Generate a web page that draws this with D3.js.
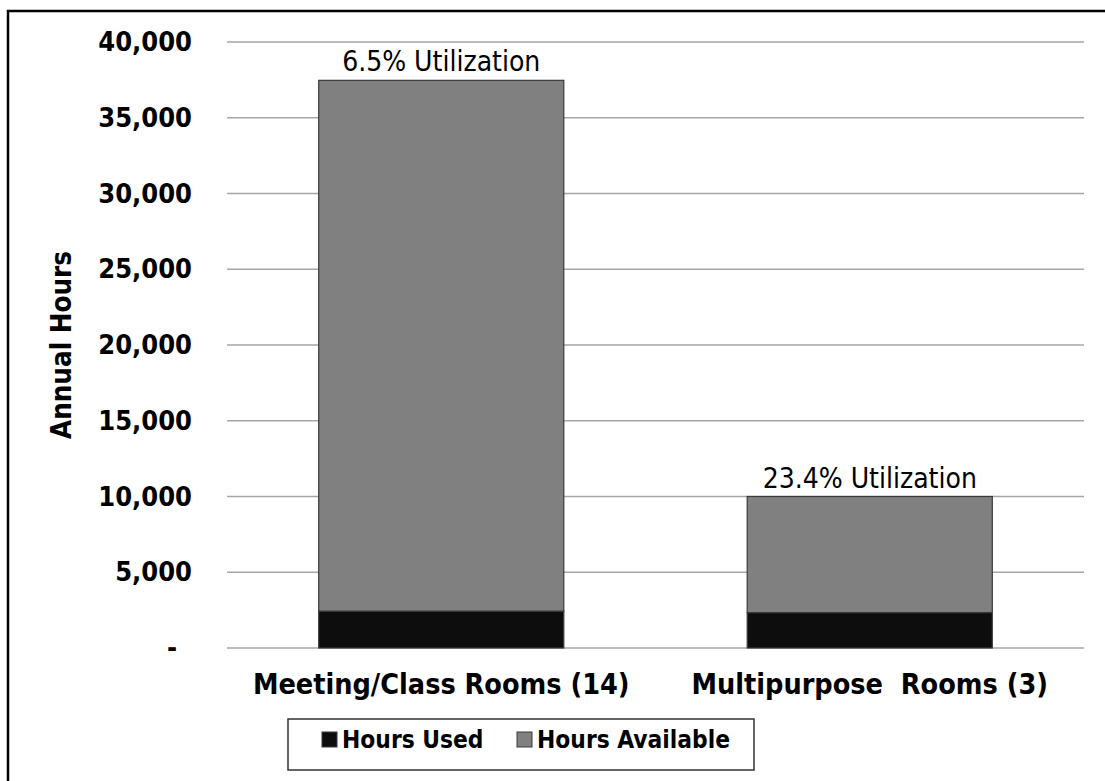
<!DOCTYPE html>
<html>
<head>
<meta charset="utf-8">
<script src="https://cdn.jsdelivr.net/npm/d3@7"></script>
<style>
  body { margin: 0; background: #fff; }
  text { font-family: "DejaVu Sans Condensed", "DejaVu Sans", sans-serif; font-stretch: condensed; }
</style>
</head>
<body>
<script>
// chart data
var categories = ["Meeting/Class Rooms (14)", "Multipurpose  Rooms (3)"];
var hoursUsed = [2435, 2340];
var hoursAvailable = [35035, 7660];   // stacked on top of used
var utilLabels = ["6.5% Utilization", "23.4% Utilization"];
var yTicks = [0, 5000, 10000, 15000, 20000, 25000, 30000, 35000, 40000];
var seriesNames = ["Hours Used", "Hours Available"];
var seriesColors = ["#0d0d0d", "#808080"];

function drawChart(){
  var svgWidth = 1105, svgHeight = 781;
  var plotLeft = 227, plotRight = 1084, plotTop = 42, plotBottom = 648;

  var svg = d3.select("body").append("svg")
    .attr("width", svgWidth)
    .attr("height", svgHeight);

  // outer chart border
  svg.append("rect")
    .attr("x", 8).attr("y", 11)
    .attr("width", 1200).attr("height", 900)
    .attr("fill", "none").attr("stroke", "#000").attr("stroke-width", 2.5);

  var x = d3.scaleBand().domain(categories).range([plotLeft, plotRight])
    .paddingInner(0.428).paddingOuter(0.214);
  var y = d3.scaleLinear().domain([0, 40000]).range([plotBottom, plotTop]);

  // gridlines
  svg.append("g").selectAll("line")
    .data(yTicks)
    .enter().append("line")
    .attr("x1", plotLeft).attr("x2", plotRight)
    .attr("y1", function(d){ return y(d); })
    .attr("y2", function(d){ return y(d); })
    .attr("stroke", "#a6a6a6").attr("stroke-width", 1.5);

  // y axis labels
  var fmt = d3.format(",");
  var yAxis = d3.axisLeft(y).tickValues(yTicks).tickSize(0).tickPadding(35)
    .tickFormat(function(d){ return d == 0 ? "-" : fmt(d); });
  var yg = svg.append("g").attr("transform", "translate(" + plotLeft + ",0)").call(yAxis);
  yg.select(".domain").remove();
  yg.attr("font-family", null).attr("font-size", null);
  yg.selectAll("text")
    .attr("font-size", 27).attr("font-weight", "bold").attr("fill", "#000")
    .attr("dx", function(d){ return d == 0 ? -15 : 0; });

  // axis title
  svg.append("text")
    .attr("transform", "translate(61," + ((plotTop + plotBottom) / 2) + ") rotate(-90)")
    .attr("text-anchor", "middle").attr("dy", "0.35em")
    .attr("font-size", 27.5).attr("font-weight", "bold")
    .text("Annual Hours");

  // stacked bars
  var rows = categories.map(function(c, i){
    return { cat: c, used: hoursUsed[i], avail: hoursAvailable[i] };
  });
  var stack = d3.stack().keys(["used", "avail"])(rows);

  svg.append("g").selectAll("g")
    .data(stack)
    .enter().append("g")
    .attr("fill", function(d, i){ return seriesColors[i]; })
    .selectAll("rect")
    .data(function(d){ return d; })
    .enter().append("rect")
    .attr("x", function(d){ return x(d.data.cat); })
    .attr("width", x.bandwidth())
    .attr("y", function(d){ return y(d[1]); })
    .attr("height", function(d){ return y(d[0]) - y(d[1]); })
    .attr("stroke", "#3a3a3a").attr("stroke-width", 1.2);

  // utilization labels
  svg.append("g").selectAll("text")
    .data(rows)
    .enter().append("text")
    .attr("x", function(d){ return x(d.cat) + x.bandwidth() / 2; })
    .attr("y", function(d){ return y(d.used + d.avail) - 9; })
    .attr("text-anchor", "middle")
    .attr("font-size", 28)
    .text(function(d, i){ return utilLabels[i]; });

  // category labels
  svg.append("g").selectAll("text")
    .data(categories)
    .enter().append("text")
    .attr("x", function(d){ return x(d) + x.bandwidth() / 2; })
    .attr("y", 694)
    .attr("text-anchor", "middle")
    .attr("font-size", 28.5).attr("font-weight", "bold")
    .style("white-space", "pre")
    .text(function(d){ return d; });

  // legend
  var lg = svg.append("g");
  lg.append("rect")
    .attr("x", 288).attr("y", 719).attr("width", 466).attr("height", 51)
    .attr("fill", "#fff").attr("stroke", "#333").attr("stroke-width", 1.5);
  var legendX = [322, 517];
  seriesNames.forEach(function(n, i){
    lg.append("rect")
      .attr("x", legendX[i]).attr("y", 732).attr("width", 15).attr("height", 15)
      .attr("fill", seriesColors[i]).attr("stroke", "#3a3a3a").attr("stroke-width", 1);
    lg.append("text")
      .attr("x", legendX[i] + 20).attr("y", 748)
      .attr("font-size", 24.3).attr("font-weight", "bold")
      .text(n);
  });
}

drawChart();
</script>
</body>
</html>
